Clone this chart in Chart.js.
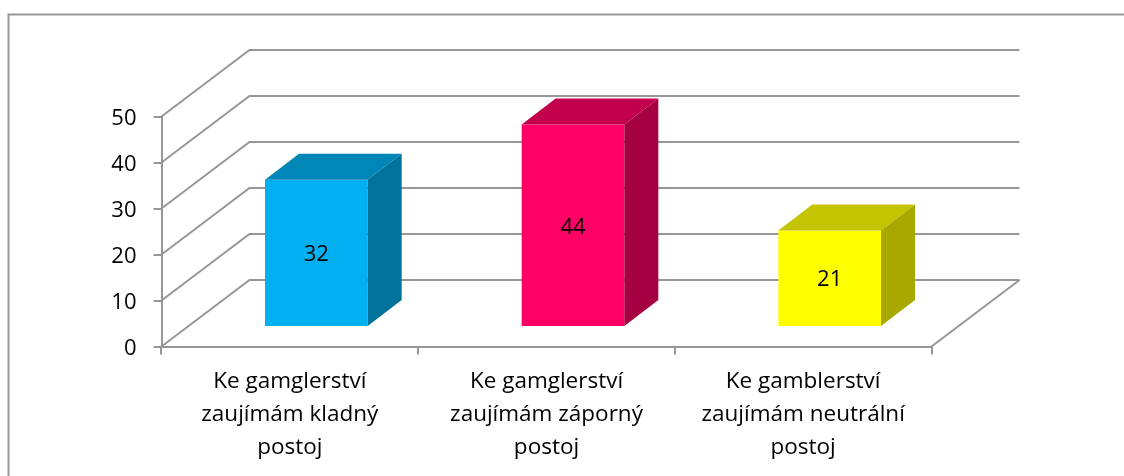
<!DOCTYPE html>
<html>
<head>
<meta charset="utf-8">
<title>Postoj ke gamblerství</title>
<script src="https://cdn.jsdelivr.net/npm/chart.js@4/dist/chart.umd.min.js"></script>
<style>
html, body { margin: 0; padding: 0; background: #fff; overflow: hidden; }
canvas { display: block; }
</style>
</head>
<body>
<canvas id="myChart" width="1124" height="476"></canvas>
<script>
var categories = [
	[ 'Ke gamglerství', 'zaujímám kladný', 'postoj' ],
	[ 'Ke gamglerství', 'zaujímám záporný', 'postoj' ],
	[ 'Ke gamblerství', 'zaujímám neutrální', 'postoj' ]
];
var values = [ 32, 44, 21 ];
var frontColors = [ '#00B0F0', '#FF0066', '#FFFF00' ];
var topColors = [ '#0086B7', '#C2004E', '#C4C400' ];
var sideColors = [ '#00729C', '#A50042', '#A8A800' ];

var lineColor = '#979797';
var fontName = '"Open Sans", sans-serif';

// depth of the floor, offset of the bars on it, depth of a bar
var wallDepth = { x : 88, y : -66.5 };
var barShift = { x : 26.5, y : -19.5 };
var barDepth = { x : 34, y : -26 };

var fake3d = {
	id : 'fake3d',
	beforeDraw : function(chart) {
		var ctx = chart.ctx;
		ctx.save();
		ctx.strokeStyle = lineColor;
		ctx.lineWidth = 2;
		ctx.beginPath();
		ctx.moveTo(8.5, 476);
		ctx.lineTo(8.5, 14.5);
		ctx.lineTo(1124, 14.5);
		ctx.stroke();
		ctx.restore();
	},
	beforeDatasetsDraw : function(chart) {
		var ctx = chart.ctx;
		var area = chart.chartArea;
		var y = chart.scales.y;
		ctx.save();
		ctx.strokeStyle = lineColor;
		ctx.lineWidth = 2;
		y.ticks.forEach(function(tick) {
			var py = y.getPixelForValue(tick.value);
			ctx.beginPath();
			ctx.moveTo(area.left, py);
			ctx.lineTo(area.left + wallDepth.x, py + wallDepth.y);
			ctx.lineTo(area.right + wallDepth.x, py + wallDepth.y);
			ctx.stroke();
		});
		// right edge of the floor
		ctx.beginPath();
		ctx.moveTo(area.right, area.bottom);
		ctx.lineTo(area.right + wallDepth.x, area.bottom + wallDepth.y);
		ctx.stroke();
		ctx.restore();

		ctx.save();
		ctx.translate(barShift.x, barShift.y);
	},
	afterDatasetsDraw : function(chart) {
		var ctx = chart.ctx;
		var bars = chart.getDatasetMeta(0).data;
		bars.forEach(function(bar, i) {
			var left = bar.x - bar.width / 2;
			var right = bar.x + bar.width / 2;
			ctx.fillStyle = topColors[i];
			ctx.beginPath();
			ctx.moveTo(left, bar.y);
			ctx.lineTo(left + barDepth.x, bar.y + barDepth.y);
			ctx.lineTo(right + barDepth.x, bar.y + barDepth.y);
			ctx.lineTo(right, bar.y);
			ctx.closePath();
			ctx.fill();

			ctx.fillStyle = sideColors[i];
			ctx.beginPath();
			ctx.moveTo(right, bar.y);
			ctx.lineTo(right + barDepth.x, bar.y + barDepth.y);
			ctx.lineTo(right + barDepth.x, bar.base + barDepth.y);
			ctx.lineTo(right, bar.base);
			ctx.closePath();
			ctx.fill();

			ctx.fillStyle = '#000';
			ctx.font = '22px ' + fontName;
			ctx.textAlign = 'center';
			ctx.textBaseline = 'middle';
			ctx.fillText(values[i], bar.x, (bar.y + bar.base) / 2 + 2);
		});
		ctx.restore();
	}
};

var ctx = document.getElementById('myChart').getContext('2d');
var chart = new Chart(ctx, {
	type : 'bar',
	data : {
		labels : categories,
		datasets : [ {
			data : values,
			backgroundColor : frontColors,
			barPercentage : 0.4,
			categoryPercentage : 1,
			clip : false
		} ]
	},
	options : {
		responsive : false,
		animation : false,
		layout : {
			padding : { left : 0, top : 116.5, right : 192.5, bottom : 0 }
		},
		plugins : {
			legend : { display : false },
			tooltip : { enabled : false }
		},
		scales : {
			x : {
				afterFit : function(scale) { scale.height = 129.5; },
				grid : {
					drawOnChartArea : false,
					color : lineColor,
					lineWidth : 2,
					tickLength : 8
				},
				border : { color : lineColor, width : 2 },
				ticks : {
					color : '#000',
					padding : 11,
					maxRotation : 0,
					autoSkip : false,
					font : { family : fontName, size : 22.5, lineHeight : 1.467 }
				}
			},
			y : {
				min : 0,
				max : 50,
				afterFit : function(scale) { scale.width = 161.5; },
				grid : {
					drawOnChartArea : false,
					color : lineColor,
					lineWidth : 2,
					tickLength : 8
				},
				border : { color : lineColor, width : 2 },
				ticks : {
					stepSize : 10,
					color : '#000',
					padding : 17,
					// empty first line pushes the number down to the tick
					callback : function(value) { return [ '', value ]; },
					font : { family : fontName, size : 22, lineHeight : '4px' }
				}
			}
		}
	},
	plugins : [ fake3d ]
});
</script>
</body>
</html>
